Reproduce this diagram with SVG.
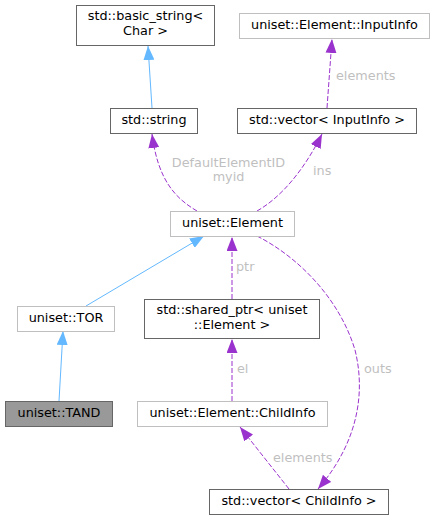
<svg xmlns="http://www.w3.org/2000/svg" width="435" height="520" viewBox="0 0 435 520">
<style>
text{font-family:"DejaVu Sans","Liberation Sans",sans-serif;font-size:12.8px}
.n text{fill:#000;text-anchor:middle}
.n rect{fill:#fff;stroke-width:1}
.d rect{stroke:#666}
.l rect{stroke:#bfbfbf}
.lbl{fill:#bfbfbf}
.eb{fill:none;stroke:#63b8ff;stroke-width:1}
.ep{fill:none;stroke:#9a32cd;stroke-width:1;stroke-dasharray:5,2}
</style>
<defs>
<marker id="ab" markerWidth="15" markerHeight="11" refX="14" refY="5.5" orient="auto" markerUnits="userSpaceOnUse"><path d="M0,0L14,5.5L0,11z" fill="#63b8ff"/></marker>
<marker id="ap" markerWidth="15" markerHeight="11" refX="14" refY="5.5" orient="auto" markerUnits="userSpaceOnUse"><path d="M0,0L14,5.5L0,11z" fill="#9a32cd"/></marker>
</defs>
<g id="edges">
<path class="eb" d="M152,108L148,46" marker-end="url(#ab)"/>
<path class="eb" d="M86,306L204,236" marker-end="url(#ab)"/>
<path class="eb" d="M59,401L63,331" marker-end="url(#ab)"/>
<path class="ep" d="M197,211C175,198 158,180 152,134" marker-end="url(#ap)"/>
<path class="ep" d="M257,211C280,198 303,172 322,134" marker-end="url(#ap)"/>
<path class="ep" d="M327,108L332,39" marker-end="url(#ap)"/>
<path class="ep" d="M232,299L232,237" marker-end="url(#ap)"/>
<path class="ep" d="M232,401L232,339" marker-end="url(#ap)"/>
<path class="ep" d="M289,489L240,427" marker-end="url(#ap)"/>
<path class="ep" d="M257,236C300,258 340,300 355,350C365,390 360,440 318,489" marker-end="url(#ap)"/>
<text class="lbl" x="228.5" y="167" text-anchor="middle">DefaultElementID</text>
<text class="lbl" x="228.5" y="181" text-anchor="middle">myid</text>
<text class="lbl" x="313" y="175">ins</text>
<text class="lbl" x="336" y="80">elements</text>
<text class="lbl" x="236" y="271">ptr</text>
<text class="lbl" x="237" y="373">el</text>
<text class="lbl" x="273" y="462">elements</text>
<text class="lbl" x="364" y="373">outs</text>
</g>
<g id="basic_string" class="n d"><rect x="76.5" y="5.5" width="138" height="40"/><text x="145.5" y="20">std::basic_string&lt;</text><text x="145.5" y="35">Char &gt;</text></g>
<g id="InputInfo" class="n l"><rect x="239.5" y="13.5" width="190" height="25"/><text x="334.5" y="29">uniset::Element::InputInfo</text></g>
<g id="string" class="n d"><rect x="110.5" y="108.5" width="87" height="25"/><text x="154" y="124">std::string</text></g>
<g id="vecInputInfo" class="n d"><rect x="237.5" y="108.5" width="179" height="25"/><text x="327" y="124">std::vector&lt; InputInfo &gt;</text></g>
<g id="Element" class="n l"><rect x="170.5" y="211.5" width="124" height="25"/><text x="232.5" y="227">uniset::Element</text></g>
<g id="TOR" class="n l"><rect x="17.5" y="306.5" width="97" height="25"/><text x="66" y="322">uniset::TOR</text></g>
<g id="shared_ptr" class="n d"><rect x="144.5" y="299.5" width="175" height="39"/><text x="232" y="314">std::shared_ptr&lt; uniset</text><text x="232" y="329">::Element &gt;</text></g>
<g id="TAND" class="n d"><rect x="5.5" y="401.5" width="107" height="25" style="fill:#999"/><text x="59" y="417">uniset::TAND</text></g>
<g id="ChildInfo" class="n l"><rect x="137.5" y="401.5" width="190" height="25"/><text x="232.5" y="417">uniset::Element::ChildInfo</text></g>
<g id="vecChildInfo" class="n d"><rect x="209.5" y="489.5" width="179" height="25"/><text x="299" y="505">std::vector&lt; ChildInfo &gt;</text></g>
</svg>
